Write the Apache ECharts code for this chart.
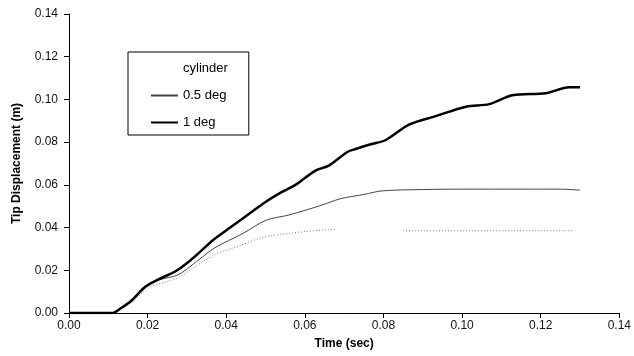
<!DOCTYPE html>
<html><head><meta charset="utf-8">
<script src="https://cdn.jsdelivr.net/npm/echarts@6/dist/echarts.min.js"></script>
<style>html,body{margin:0;padding:0;background:#fff}#c{width:634px;height:356px}</style>
</head><body><div id="c"></div>
<script>
const xTicks = [0, 0.02, 0.04, 0.06, 0.08, 0.10, 0.12, 0.14];
const yTicks = [0, 0.02, 0.04, 0.06, 0.08, 0.10, 0.12, 0.14];
const seriesNames = ['cylinder', '0.5 deg', '1 deg'];

const tCyl = [0, 0.011, 0.013, 0.016, 0.0202, 0.0245, 0.0277, 0.0302, 0.0369, 0.0427, 0.0493, 0.056, 0.0643, 0.068, 0.075, 0.085, 0.1285];
const vCyl = [0, 0, 0.002, 0.005, 0.0117, 0.0145, 0.0165, 0.0193, 0.0272, 0.031, 0.0354, 0.0373, 0.0388, 0.039, null, 0.0385, 0.0385];

const tHalf = [0, 0.011, 0.013, 0.016, 0.0194, 0.023, 0.0277, 0.031, 0.0369, 0.0443, 0.0502, 0.056, 0.0643, 0.069, 0.075, 0.0797, 0.090, 0.10, 0.115, 0.125, 0.130];
const vHalf = [0, 0, 0.002, 0.006, 0.012, 0.0155, 0.0178, 0.022, 0.0303, 0.0373, 0.0435, 0.0459, 0.0505, 0.0535, 0.0555, 0.0572, 0.0578, 0.058, 0.058, 0.058, 0.0575];

const tOne = [0, 0.011, 0.013, 0.016, 0.0194, 0.023, 0.0269, 0.031, 0.0369, 0.041, 0.046, 0.050, 0.0543, 0.0576, 0.0627, 0.0661, 0.0709, 0.0729, 0.0768, 0.0806, 0.0865, 0.0933, 0.101, 0.1069, 0.1128, 0.1213, 0.1273, 0.130];
const vOne = [0, 0, 0.002, 0.006, 0.0123, 0.016, 0.0193, 0.0248, 0.0345, 0.040, 0.0467, 0.052, 0.0568, 0.060, 0.0667, 0.069, 0.0755, 0.0768, 0.079, 0.081, 0.0882, 0.0922, 0.0966, 0.0978, 0.102, 0.1029, 0.1057, 0.1057];

function pairs(ts, vs) { return ts.map((t, i) => [t, vs[i] === null ? '-' : vs[i]]); }

const font = 'Liberation Sans, Arial, sans-serif';
const chart = echarts.init(document.getElementById('c'), null, {renderer: 'canvas'});
chart.setOption({
  animation: false,
  backgroundColor: '#fff',
  grid: {left: 69, right: 5, top: 14, bottom: 43, containLabel: false},
  legend: {
    show: true,
    orient: 'vertical', left: 128, top: 52,
    data: [
      {name: seriesNames[0], itemStyle: {opacity: 0}, lineStyle: {opacity: 0}},
      {name: seriesNames[1], itemStyle: {opacity: 0}},
      {name: seriesNames[2], itemStyle: {opacity: 0}}
    ],
    itemWidth: 27, itemHeight: 12, itemGap: 14,
    padding: [10, 21, 6, 22],
    borderColor: '#000', borderWidth: 1,
    textStyle: {fontFamily: font, fontSize: 13, color: '#000'}
  },
  xAxis: {
    type: 'value', min: 0, max: 0.14, interval: 0.02,
    name: 'Time (sec)', nameLocation: 'middle', nameGap: 25,
    nameTextStyle: {fontFamily: font, fontWeight: 'bold', fontSize: 12, color: '#000'},
    axisLine: {show: true, lineStyle: {color: '#000', width: 1}},
    axisTick: {show: true, length: 5, lineStyle: {color: '#000'}},
    axisLabel: {formatter: v => v.toFixed(2), fontFamily: font, fontSize: 12, color: '#111', margin: 7},
    splitLine: {show: false}
  },
  yAxis: {
    type: 'value', min: 0, max: 0.14, interval: 0.02,
    name: 'Tip Displacement (m)', nameLocation: 'middle', nameGap: 46, nameRotate: 90,
    nameTextStyle: {fontFamily: font, fontWeight: 'bold', fontSize: 12, color: '#000'},
    axisLine: {show: true, lineStyle: {color: '#000', width: 1}},
    axisTick: {show: true, length: 5, lineStyle: {color: '#000'}},
    axisLabel: {formatter: v => v.toFixed(2), fontFamily: font, fontSize: 12, color: '#111', margin: 11},
    splitLine: {show: false}
  },
  series: [
    {name: seriesNames[0], type: 'line', showSymbol: false, symbol: 'none', connectNulls: false, smooth: 0.3,
     data: pairs(tCyl, vCyl), lineStyle: {color: '#777', width: 1, type: [1, 2]}, itemStyle: {color: '#777'}},
    {name: seriesNames[1], type: 'line', showSymbol: false, symbol: 'none', smooth: 0.3,
     data: pairs(tHalf, vHalf), lineStyle: {color: '#444', width: 1}, itemStyle: {color: '#444'}},
    {name: seriesNames[2], type: 'line', showSymbol: false, symbol: 'none', smooth: 0.3,
     data: pairs(tOne, vOne), lineStyle: {color: '#000', width: 2.5}, itemStyle: {color: '#000'}}
  ]
});
</script></body></html>
